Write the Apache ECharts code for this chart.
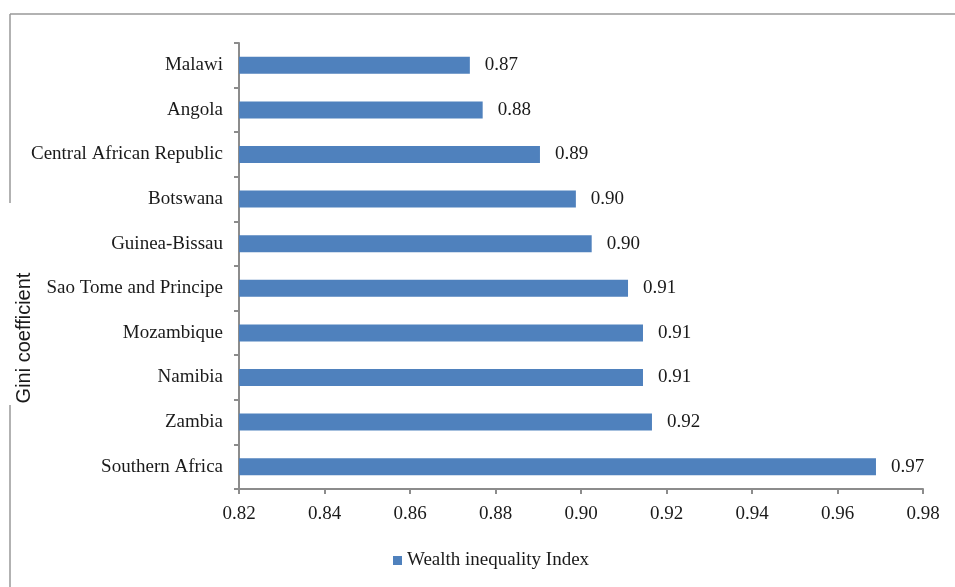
<!DOCTYPE html>
<html>
<head>
<meta charset="utf-8">
<script src="https://cdn.jsdelivr.net/npm/echarts@6/dist/echarts.min.js"></script>
<style>
    html, body { margin: 0; padding: 0; background: #fff; }
    #chart { width: 955px; height: 587px; }
</style>
</head>
<body>
<div id="chart"></div>
<script>
// 数据
var countries = ['Malawi', 'Angola', 'Central African Republic', 'Botswana', 'Guinea-Bissau',
    'Sao Tome and Principe', 'Mozambique', 'Namibia', 'Zambia', 'Southern Africa'];
var wealthIndex = [0.874, 0.877, 0.8904, 0.8988, 0.9025, 0.911, 0.9145, 0.9145, 0.9166, 0.969];
var xTicks = { min: 0.82, max: 0.98, step: 0.02 };
var yTitle = 'Gini coefficient';

var serif = 'Liberation Serif';
var fs = 19;
var myChart = echarts.init(document.getElementById('chart'));

var option = {
    animation: false,
    grid: { left: 239, right: 32, top: 43, bottom: 98 },
    legend: {
        data: ['Wealth inequality Index'],
        bottom: 12,
        left: 388,
        itemWidth: 9,
        itemHeight: 9,
        itemGap: 5,
        icon: 'rect',
        itemStyle: { borderWidth: 0 },
        textStyle: { fontFamily: serif, fontSize: fs, color: '#1a1a1a' }
    },
    xAxis: {
        type: 'value',
        min: xTicks.min,
        max: xTicks.max,
        interval: xTicks.step,
        splitLine: { show: false },
        axisLine: { show: true, lineStyle: { color: '#8c8c8c', width: 2 } },
        axisTick: { show: true, length: 5, lineStyle: { color: '#8c8c8c', width: 2 } },
        axisLabel: {
            margin: 16,
            fontFamily: serif, fontSize: fs, color: '#1a1a1a',
            formatter: function (v) { return v.toFixed(2); }
        }
    },
    yAxis: {
        type: 'category',
        data: countries,
        inverse: true,
        axisLine: { show: true, lineStyle: { color: '#8c8c8c', width: 2 } },
        axisTick: { show: true, length: 5, lineStyle: { color: '#8c8c8c', width: 2 } },
        axisLabel: { margin: 16, padding: [3, 0, 0, 0], fontFamily: serif, fontSize: fs, color: '#1a1a1a' }
    },
    series: [{
        name: 'Wealth inequality Index',
        type: 'bar',
        data: wealthIndex,
        barWidth: 17,
        itemStyle: { color: '#4f81bd' },
        label: {
            show: true,
            position: 'right',
            distance: 15,
            padding: [4, 0, 0, 0],
            fontFamily: serif, fontSize: fs, color: '#1a1a1a',
            formatter: function (p) { return p.value.toFixed(2); }
        }
    }],
    graphic: [
        { type: 'line', shape: { x1: 10, y1: 14, x2: 955, y2: 14 }, style: { stroke: '#999', lineWidth: 1.5 } },
        { type: 'line', shape: { x1: 10, y1: 14, x2: 10, y2: 203 }, style: { stroke: '#999', lineWidth: 1.5 } },
        { type: 'line', shape: { x1: 10, y1: 405, x2: 10, y2: 587 }, style: { stroke: '#999', lineWidth: 1.5 } },
        // 纵轴标题
        {
            type: 'text', x: 24, y: 338, rotation: Math.PI / 2,
            style: {
                text: yTitle, fontFamily: 'Liberation Sans', fontSize: 20, fill: '#1a1a1a',
                align: 'center', verticalAlign: 'middle'
            }
        }
    ]
};

myChart.setOption(option);
</script>
</body>
</html>
